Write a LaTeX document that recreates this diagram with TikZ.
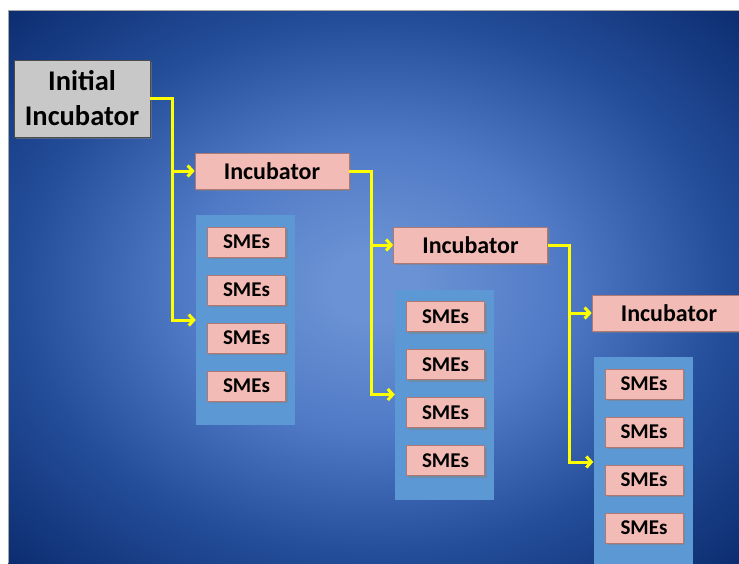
\documentclass[tikz,border=0pt]{standalone}
\usepackage{fontspec}
\setmainfont{Carlito}
\usetikzlibrary{arrows.meta,shadows,calc}
\definecolor{bgmid}{RGB}{106,146,212}
\definecolor{bgin}{RGB}{80,122,198}
\definecolor{bgside}{RGB}{36,78,154}
\definecolor{bgedge}{RGB}{12,44,112}
\definecolor{panelblue}{RGB}{92,152,212}
\definecolor{boxpink}{RGB}{243,187,181}
\definecolor{boxline}{RGB}{176,120,114}
\definecolor{boxgray}{RGB}{200,200,200}
\definecolor{linkyellow}{RGB}{255,255,0}
\pgfdeclareradialshading{bgglow}{\pgfpoint{0bp}{0bp}}{color(0bp)=(bgmid); color(3bp)=(bgmid); color(13bp)=(bgin); color(24bp)=(bgside); color(35.5bp)=(bgedge); color(50bp)=(bgedge)}
\tikzset{
  pinkbox/.style={draw=boxline, fill=boxpink, line width=0.7pt, text=black,
    drop shadow={shadow xshift=2pt, shadow yshift=-2pt, opacity=0.5}},
  initbox/.style={pinkbox, draw=gray!60!black, fill=boxgray, align=center,
    minimum width=136pt, minimum height=77pt, font=\fontsize{28.5}{35}\selectfont\bfseries},
  incbox/.style={pinkbox, minimum width=154pt, minimum height=36pt,
    font=\fontsize{24}{26}\selectfont\bfseries},
  smebox/.style={pinkbox, minimum width=78pt, minimum height=30pt,
    font=\fontsize{21}{23}\selectfont\bfseries},
  panel/.style={fill=panelblue, minimum width=99pt, minimum height=210pt},
  link/.style={draw=linkyellow, line width=3pt, -{Straight Barb[length=5pt,width=11pt]}}
}
\begin{document}
\begin{tikzpicture}[x=1pt,y=-1pt]
\useasboundingbox (0,0) rectangle (739,563);
\clip (0,0) rectangle (739,563);
\fill[white] (0,0) rectangle (739,563);
\shade[shading=bgglow] (8,10) rectangle (739,563);
\draw[gray!70, line width=0.8pt] (8,563) -- (8,10) -- (739,10);
% incubators
\node[initbox] (init) at (82,98.5) {Initial\\Incubator};
\node[incbox] (inc1) at (272,171) {Incubator};
\node[incbox] (inc2) at (470.5,245) {Incubator};
\node[incbox] (inc3) at (669,313) {Incubator};
% SME panels
\node[panel] (panel1) at (245.5,320) {};
\node[panel] (panel2) at (444.5,394.5) {};
\node[panel] (panel3) at (643,462) {};
\foreach \p in {1,2,3}
  \foreach \k [count=\i] in {-78,-30,18,66}
    \node[smebox] (sme\p\i) at ($(panel\p.center)+(1,\k)$) {SMEs};
% links
\draw[link] (init.east) -- ++(22,0) coordinate (j1) |- (inc1.west);
\draw[link] (j1) |- (panel1.west);
\draw[link] (inc1.east) -- ++(22,0) coordinate (j2) |- (inc2.west);
\draw[link] (j2) |- (panel2.west);
\draw[link] (inc2.east) -- ++(22,0) coordinate (j3) |- (inc3.west);
\draw[link] (j3) |- (panel3.west);
\end{tikzpicture}
\end{document}
